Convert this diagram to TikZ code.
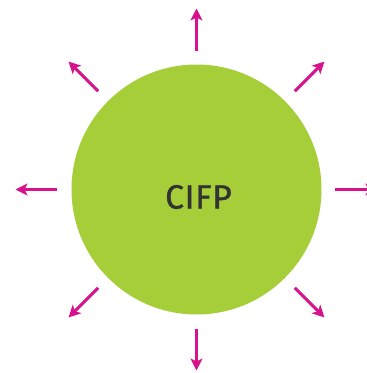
\documentclass[tikz,border=0pt]{standalone}
\usepackage{fontspec}
\newfontfamily\cifpfont{Fira Sans}[FakeBold=1.2,LetterSpace=2]
\usetikzlibrary{arrows.meta}
\definecolor{cifpgreen}{RGB}{166,206,57}
\definecolor{cifppink}{RGB}{214,18,140}
\definecolor{cifptext}{RGB}{51,51,51}
\tikzset{ray/.style={cifppink, line width=3pt, -{Stealth[length=12pt,width=12pt,inset=3pt]}}}

\begin{document}
\begin{tikzpicture}[x=1pt,y=1pt]
    \useasboundingbox (-196.5,-183.5) rectangle (170.5,189.5);
    % the disc
    \node[circle, fill=cifpgreen, minimum size=250pt, inner sep=0pt] (cifp) at (0,0) {};
    \node[font=\cifpfont\fontsize{33.5}{34}\selectfont, text=cifptext] (name) at (2,-7.5) {CIFP};

    % rays all round
    \foreach \a in {0,45,...,315} {
        \coordinate (s\a) at (\a:139);
        \coordinate (e\a) at (\a:181);
        \draw[ray] (s\a) -- (e\a);
    }
\end{tikzpicture}
\end{document}
